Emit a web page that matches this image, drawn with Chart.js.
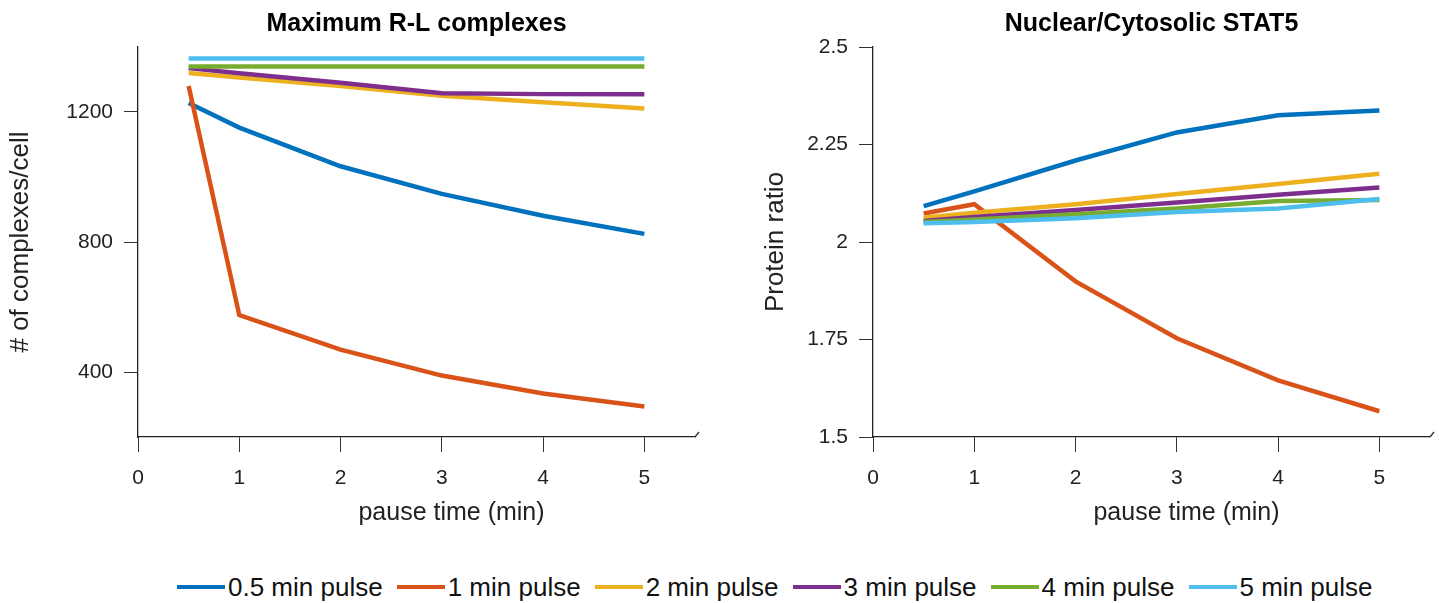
<!DOCTYPE html>
<html>
<head>
<meta charset="utf-8">
<script src="https://cdn.jsdelivr.net/npm/chart.js@4.4.1/dist/chart.umd.min.js"></script>
<style>
  body { margin: 0; background: #fff; }
  #wrap { position: relative; width: 1439px; height: 603px; overflow: hidden; }
  canvas { position: absolute; top: 0; }
  #legend {
    position: absolute; left: 177px; top: 572px; height: 30px;
    display: flex; justify-content: flex-start; align-items: center; white-space: nowrap;
    font-family: 'Liberation Sans', Arial, sans-serif; font-size: 26px; color: #111;
  }
  .item { display: flex; align-items: center; margin-right: 14px; }
  .item:last-child { margin-right: 0; }
  .swatch { width: 48px; height: 4px; margin-right: 3px; }
</style>
</head>
<body>
<div id="wrap">
  <canvas id="leftChart" width="720" height="545" style="left:0"></canvas>
  <canvas id="rightChart" width="719" height="545" style="left:720px"></canvas>
  <div id="legend"></div>
</div>
<script>
// series names and colours (MATLAB default order)
const seriesNames = ['0.5 min pulse', '1 min pulse', '2 min pulse', '3 min pulse', '4 min pulse', '5 min pulse'];
const seriesColors = ['#0072BD', '#D95319', '#EDB120', '#7E2F8E', '#77AC30', '#4DBEEE'];

// pause times (x values)
const pauseTimes = [0.5, 1, 2, 3, 4, 5];
const xTicks = [0, 1, 2, 3, 4, 5];

// Maximum R-L complexes (# of complexes/cell)
const rl_05 = [1228, 1152, 1033, 948, 881, 825];
const rl_1  = [1280, 575, 469, 389, 334, 294];
const rl_2  = [1320, 1306, 1280, 1250, 1230, 1211];
const rl_3  = [1335, 1319, 1290, 1258, 1255, 1255];
const rl_4  = [1340, 1340, 1340, 1340, 1340, 1340];
const rl_5  = [1365, 1365, 1365, 1365, 1365, 1365];
const rlTicks = [400, 800, 1200];

// Nuclear/Cytosolic STAT5 (protein ratio)
const st_05 = [2.092, 2.13, 2.209, 2.281, 2.325, 2.337];
const st_1  = [2.073, 2.097, 1.899, 1.753, 1.645, 1.566];
const st_2  = [2.062, 2.075, 2.097, 2.123, 2.149, 2.175];
const st_3  = [2.054, 2.064, 2.082, 2.101, 2.121, 2.14];
const st_4  = [2.051, 2.058, 2.071, 2.086, 2.105, 2.108];
const st_5  = [2.048, 2.051, 2.061, 2.077, 2.086, 2.11];
const stTicks = [1.5, 1.75, 2, 2.25, 2.5];

const fontFamily = "'Liberation Sans', Arial, sans-serif";
const tickFont = { family: fontFamily, size: 21 };

function makeDatasets(seriesList) {
    return seriesList.map((vals, i) => ({
        label: seriesNames[i],
        data: pauseTimes.map((x, j) => ({ x: x, y: vals[j] })),
        borderColor: seriesColors[i],
        backgroundColor: seriesColors[i],
        borderWidth: 4.5,
        pointRadius: 0,
        tension: 0,
        fill: false,
        order: seriesList.length - i   // last series drawn on top, like MATLAB
    }));
}

// draws the panel title, the x axis title and the little mark at the end of the x axis
const panelText = {
    id: 'panelText',
    afterDraw(chart, args, opts) {
        const ctx = chart.ctx;
        const area = chart.chartArea;
        const cx = (area.left + area.right) / 2;
        ctx.save();
        ctx.strokeStyle = '#333';
        ctx.lineWidth = 1.3;
        ctx.beginPath();
        ctx.moveTo(area.right, area.bottom);
        ctx.lineTo(area.right + 4, area.bottom - 5);
        ctx.stroke();
        ctx.fillStyle = '#000';
        ctx.textAlign = 'center';
        ctx.textBaseline = 'middle';
        ctx.font = "bold 25px " + fontFamily;
        ctx.fillText(opts.title, cx, 24);
        ctx.fillStyle = '#222';
        ctx.font = "25px " + fontFamily;
        ctx.fillText(opts.xTitle, cx + opts.xTitleShift, 513);
        ctx.restore();
    }
};

function makeChart(canvasId, seriesList, yMin, yMax, yTickVals, yTitle, yAxisWidth, yTitlePad, padRight, title) {
    const ctx = document.getElementById(canvasId).getContext('2d');
    return new Chart(ctx, {
        type: 'line',
        data: { datasets: makeDatasets(seriesList) },
        options: {
            responsive: false,
            animation: false,
            devicePixelRatio: 1,
            layout: { padding: { top: 47, right: padRight, left: 0, bottom: 0 } },
            plugins: {
                legend: { display: false },
                tooltip: { enabled: false },
                panelText: { title: title, xTitle: 'pause time (min)', xTitleShift: 35 }
            },
            scales: {
                x: {
                    type: 'linear',
                    min: 0,
                    max: 5.5,
                    afterBuildTicks: scale => { scale.ticks = xTicks.map(v => ({ value: v })); },
                    afterFit: scale => { scale.height = 108; },
                    grid: { drawOnChartArea: false, drawTicks: true, tickLength: 15, color: '#333' },
                    border: { display: true, color: '#222', width: 1.3 },
                    ticks: { color: '#222', font: tickFont, padding: 14, maxRotation: 0 }
                },
                y: {
                    min: yMin,
                    max: yMax,
                    afterBuildTicks: scale => { scale.ticks = yTickVals.map(v => ({ value: v })); },
                    afterFit: scale => { scale.width = yAxisWidth; },
                    grid: { drawOnChartArea: false, drawTicks: true, tickLength: 14, color: '#333' },
                    border: { display: true, color: '#222', width: 1.3 },
                    ticks: { color: '#222', font: tickFont, padding: 11, callback: v => String(v) },
                    title: { display: true, text: yTitle, color: '#222', font: { family: fontFamily, size: 26 }, padding: { top: yTitlePad, bottom: 0 } }
                }
            }
        },
        plugins: [panelText]
    });
}

makeChart('leftChart', [rl_05, rl_1, rl_2, rl_3, rl_4, rl_5], 200, 1400, rlTicks,
    '# of complexes/cell', 138, 5, 25, 'Maximum R-L complexes');
makeChart('rightChart', [st_05, st_1, st_2, st_3, st_4, st_5], 1.5, 2.5, stTicks,
    'Protein ratio', 153, 40, 9, 'Nuclear/Cytosolic STAT5');

// shared legend below both panels
const legendEl = document.getElementById('legend');
seriesNames.forEach((name, i) => {
    const item = document.createElement('div');
    item.className = 'item';
    item.innerHTML = `<span class="swatch" style="background:${seriesColors[i]}"></span><span>${name}</span>`;
    legendEl.appendChild(item);
});
</script>
</body>
</html>
